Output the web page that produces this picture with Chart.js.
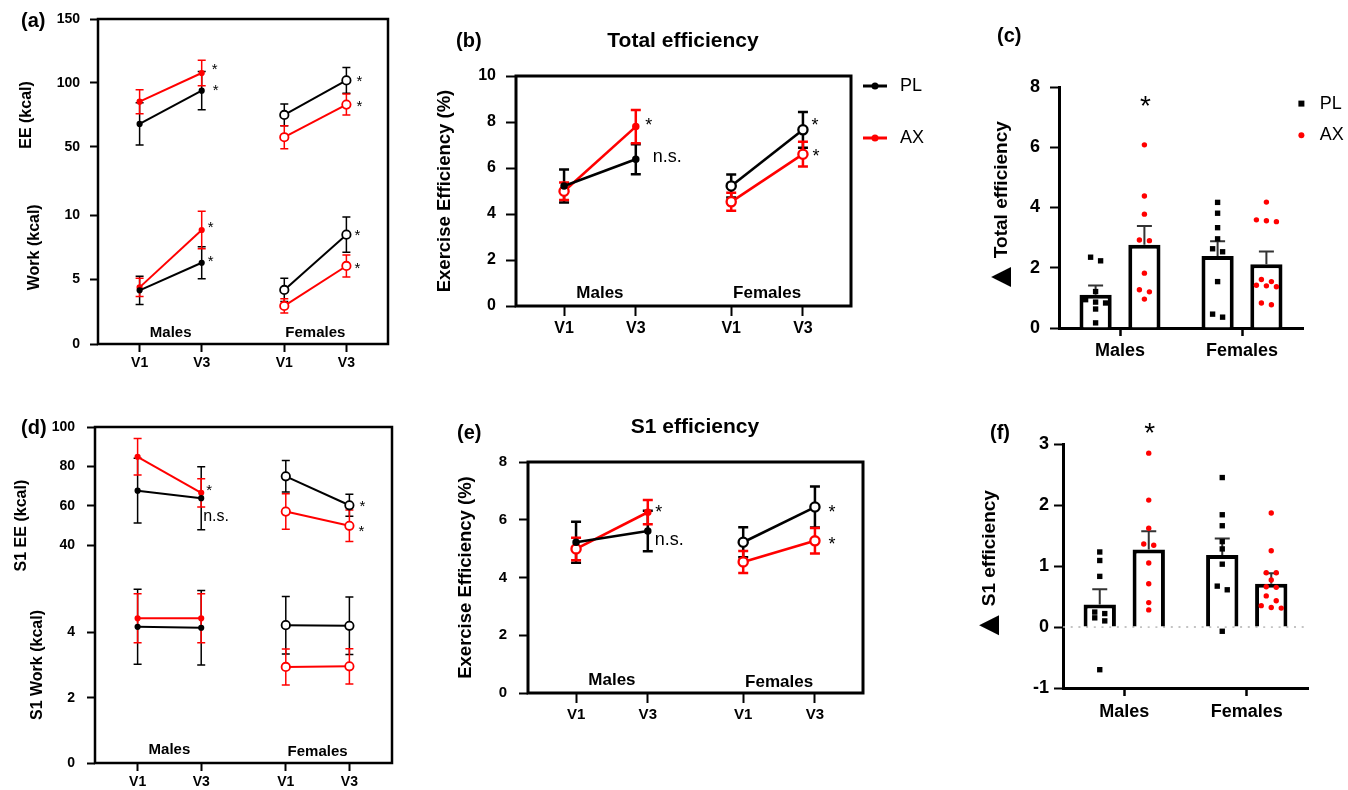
<!DOCTYPE html>
<html>
<head>
<meta charset="utf-8">
<title>Exercise efficiency</title>
<script src="https://cdn.jsdelivr.net/npm/chart.js@4.4.1/dist/chart.umd.min.js"></script>
<style>
  body { margin: 0; background: #fff; font-family: 'Liberation Sans', Arial, sans-serif; }
  #fig { position: relative; width: 1348px; height: 790px; overflow: hidden; }
  canvas { position: absolute; }
  .tag { position: absolute; font-weight: bold; font-size: 20px; line-height: 20px; }
  .head { position: absolute; font-weight: bold; font-size: 21px; line-height: 21px; transform: translateX(-50%); white-space: nowrap; }
</style>
</head>
<body>
<div id="fig">
  <canvas id="chartA" width="420" height="380" style="left:0;top:0"></canvas>
  <canvas id="chartB" width="540" height="360" style="left:420px;top:0"></canvas>
  <canvas id="chartC" width="388" height="370" style="left:960px;top:0"></canvas>
  <canvas id="chartD" width="420" height="400" style="left:0;top:390px"></canvas>
  <canvas id="chartE" width="540" height="350" style="left:420px;top:390px"></canvas>
  <canvas id="chartF" width="388" height="380" style="left:960px;top:390px"></canvas>
  <div class="tag" style="left:21px;top:10px">(a)</div>
  <div class="tag" style="left:456px;top:30px">(b)</div>
  <div class="tag" style="left:997px;top:25px">(c)</div>
  <div class="tag" style="left:21px;top:417px">(d)</div>
  <div class="tag" style="left:457px;top:422px">(e)</div>
  <div class="tag" style="left:990px;top:422px">(f)</div>
  <div class="head" style="left:683px;top:29px">Total efficiency</div>
  <div class="head" style="left:695px;top:415px">S1 efficiency</div>
</div>
<script>
const FONT = "'Liberation Sans', Arial, sans-serif";
const BLACK = '#000';
const RED = '#ff0000';

const visits = ['V1', 'V3', 'V1', 'V3'];
const visitX = [1, 2, 3.33, 4.33];
const groups = ['Males', 'Females'];
const series = ['PL', 'AX'];

// (a) energy expenditure and work, mean and SEM
const eePL = [68, 94, 75, 102];
const eePLsem = [16.5, 15, 8.5, 10];
const eeAX = [85.4, 107.8, 57.6, 83.1];
const eeAXsem = [9.4, 10, 9, 8.2];
const workPL = [4.16, 6.3, 4.19, 8.48];
const workPLsem = [1.1, 1.25, 0.9, 1.37];
const workAX = [4.39, 8.84, 2.95, 6.05];
const workAXsem = [0.7, 1.45, 0.55, 0.85];
const ticksEE = [50, 100, 150];
const ticksWork = [0, 5, 10];

// (b) total efficiency (%)
const totPL = [5.22, 6.38, 5.22, 7.66];
const totPLsem = [0.72, 0.65, 0.5, 0.78];
const totAX = [4.99, 7.8, 4.53, 6.6];
const totAXsem = [0.38, 0.72, 0.39, 0.54];
const ticksTot = [0, 2, 4, 6, 8, 10];

// (c) change in total efficiency
const dTotPL = [1.1, 2.39];
const dTotPLsem = [0.31, 0.49];
const dTotAX = [2.76, 2.12];
const dTotAXsem = [0.63, 0.42];
const dTotPLmales = [2.23, 2.35, 1.21, 0.94, 0.86, 0.83, 0.63, 0.17];
const dTotPLfemales = [4.17, 3.81, 3.33, 2.96, 2.63, 2.53, 1.54, 0.36, 0.46];
const dTotAXmales = [6.08, 4.38, 3.78, 2.9, 2.92, 1.82, 1.27, 1.2, 0.96];
const dTotAXfemales = [4.18, 3.56, 3.59, 3.53, 1.54, 1.61, 1.42, 1.37, 1.4, 0.77, 0.83];
const ticksDTot = [0, 2, 4, 6, 8];

// (d) S1 energy expenditure and work
const s1eePL = [67.7, 63.9, 75, 60.3];
const s1eePLsem = [16.4, 16, 8, 5.6];
const s1eeAX = [84.9, 66.6, 57.1, 49.9];
const s1eeAXsem = [9.3, 7.2, 9, 8];
const s1workPL = [4.17, 4.14, 4.22, 4.2];
const s1workPLsem = [1.15, 1.14, 0.88, 0.88];
const s1workAX = [4.43, 4.43, 2.94, 2.96];
const s1workAXsem = [0.75, 0.75, 0.55, 0.54];
const ticksS1EE = [40, 60, 80, 100];
const ticksS1Work = [0, 2, 4];

// (e) S1 efficiency (%)
const s1PL = [5.22, 5.61, 5.22, 6.44];
const s1PLsem = [0.71, 0.7, 0.52, 0.71];
const s1AX = [4.99, 6.26, 4.54, 5.27];
const s1AXsem = [0.39, 0.42, 0.38, 0.44];
const ticksS1 = [0, 2, 4, 6, 8];

// (f) change in S1 efficiency
const dS1PL = [0.37, 1.18];
const dS1PLsem = [0.25, 0.27];
const dS1AX = [1.27, 0.71];
const dS1AXsem = [0.3, 0.17];
const dS1PLmales = [1.23, 1.09, 0.83, 0.245, 0.22, 0.15, 0.1, -0.7];
const dS1PLfemales = [2.45, 1.84, 1.66, 1.4, 1.28, 1.03, 0.67, 0.61, -0.07];
const dS1AXmales = [2.85, 2.08, 1.62, 1.34, 1.36, 1.05, 0.71, 0.4, 0.28];
const dS1AXfemales = [1.87, 1.25, 0.89, 0.89, 0.77, 0.66, 0.65, 0.51, 0.43, 0.31, 0.35, 0.32];
const ticksDS1 = [-1, 0, 1, 2, 3];

Chart.defaults.font.family = FONT;
Chart.defaults.color = BLACK;

// vertical SEM bars drawn under the markers
const errorBars = {
  id: 'errorBars',
  beforeDatasetsDraw(chart, args, o) {
    const ctx = chart.ctx;
    chart.data.datasets.forEach((ds, di) => {
      if (!ds.sem) return;
      const meta = chart.getDatasetMeta(di);
      const ys = chart.scales[meta.yAxisID];
      ctx.save();
      ctx.strokeStyle = o.color || ds.borderColor;
      ctx.lineWidth = o.width;
      meta.data.forEach((el, i) => {
        const v = ds.data[i].y;
        const hi = ys.getPixelForValue(v + ds.sem[i]);
        const lo = o.upOnly ? el.y : ys.getPixelForValue(v - ds.sem[i]);
        ctx.beginPath();
        ctx.moveTo(el.x, lo);
        ctx.lineTo(el.x, hi);
        ctx.moveTo(el.x - o.cap, hi);
        ctx.lineTo(el.x + o.cap, hi);
        if (!o.upOnly) {
          ctx.moveTo(el.x - o.cap, lo);
          ctx.lineTo(el.x + o.cap, lo);
        }
        ctx.stroke();
      });
      ctx.restore();
    });
  }
};

const frame = {
  id: 'frame',
  afterDatasetsDraw(chart, args, o) {
    if (!o.width) return;
    const {ctx, chartArea: a} = chart;
    ctx.save();
    ctx.strokeStyle = BLACK;
    ctx.lineWidth = o.width;
    ctx.strokeRect(a.left, a.top, a.right - a.left, a.bottom - a.top);
    ctx.restore();
  }
};

const zeroLine = {
  id: 'zeroLine',
  beforeDatasetsDraw(chart, args, o) {
    if (!o.show) return;
    const {ctx, chartArea: a} = chart;
    const y = chart.scales.y.getPixelForValue(0);
    ctx.save();
    ctx.strokeStyle = '#b0b0b0';
    ctx.lineWidth = 1.5;
    ctx.setLineDash([2, 5.7]);
    ctx.beginPath();
    ctx.moveTo(a.left, y);
    ctx.lineTo(a.right, y);
    ctx.stroke();
    ctx.restore();
  }
};

// stars and n.s. marks next to points
const notes = {
  id: 'notes',
  afterDatasetsDraw(chart, args, o) {
    if (!o.items) return;
    const ctx = chart.ctx;
    o.items.forEach(n => {
      const el = chart.getDatasetMeta(n.ds).data[n.i];
      const size = n.size || o.size;
      const star = n.text === '*';
      const y = n.top !== undefined ? chart.chartArea.top + n.top : el.y + n.dy;
      ctx.save();
      ctx.font = `${size}px ${FONT}`;
      ctx.fillStyle = BLACK;
      ctx.textAlign = star ? 'center' : 'left';
      ctx.textBaseline = 'middle';
      ctx.fillText(n.text, el.x + n.dx, y + (star ? 0.22 * size : 0));
      ctx.restore();
    });
  }
};

const groupLabels = {
  id: 'groupLabels',
  afterDatasetsDraw(chart, args, o) {
    if (!o.size) return;
    const {ctx, chartArea: a} = chart;
    const xs = chart.scales.x;
    ctx.save();
    ctx.font = `bold ${o.size}px ${FONT}`;
    ctx.fillStyle = BLACK;
    ctx.textAlign = 'center';
    ctx.textBaseline = 'middle';
    groups.forEach((g, k) => {
      const x = (xs.getPixelForValue(visitX[2 * k]) + xs.getPixelForValue(visitX[2 * k + 1])) / 2;
      ctx.fillText(g, x, a.bottom - o.off[k]);
    });
    ctx.restore();
  }
};

// rotated axis titles for the split axes and the delta panels (read from the raw options)
const sideTitle = {
  id: 'sideTitle',
  afterDraw(chart) {
    const cfg = chart.config.options.plugins.sideTitle;
    if (!cfg || !cfg.items) return;
    const ctx = chart.ctx;
    cfg.items.forEach(t => {
      const sc = chart.scales[t.scale];
      const cy = t.at !== undefined ? sc.getPixelForValue(t.at) : (chart.chartArea.top + chart.chartArea.bottom) / 2;
      const main = `bold ${t.size}px ${FONT}`;
      ctx.save();
      ctx.translate(t.x, cy);
      ctx.rotate(-Math.PI / 2);
      ctx.fillStyle = BLACK;
      ctx.textBaseline = 'middle';
      ctx.textAlign = 'left';
      ctx.font = main;
      const wText = ctx.measureText(t.text).width;
      let wMark = 0;
      if (t.mark) {
        ctx.font = `${t.markSize}px ${FONT}`;
        wMark = ctx.measureText(t.mark).width + t.gap;
      }
      let x0 = -(wMark + wText) / 2;
      if (t.mark) {
        ctx.fillText(t.mark, x0, t.markDy || 0);
        x0 += wMark;
      }
      ctx.font = main;
      ctx.fillText(t.text, x0, 0);
      ctx.restore();
    });
  }
};

const key = {
  id: 'key',
  afterDraw(chart, args, o) {
    if (!o.rows) return;
    const {ctx, chartArea: a} = chart;
    o.rows.forEach((r, k) => {
      const x = a.right + o.left;
      const y = a.top + o.top + k * o.gap;
      ctx.save();
      ctx.fillStyle = r.color;
      ctx.strokeStyle = r.color;
      if (o.line) {
        ctx.lineWidth = 3;
        ctx.beginPath();
        ctx.moveTo(x, y);
        ctx.lineTo(x + 24, y);
        ctx.stroke();
        ctx.beginPath();
        ctx.arc(x + 12, y, 3.5, 0, Math.PI * 2);
        ctx.fill();
      } else if (r.shape === 'rect') {
        ctx.fillRect(x - 3, y - 3, 6, 6);
      } else {
        ctx.beginPath();
        ctx.arc(x, y, 3, 0, Math.PI * 2);
        ctx.fill();
      }
      ctx.fillStyle = BLACK;
      ctx.font = `18px ${FONT}`;
      ctx.textBaseline = 'middle';
      ctx.fillText(r.text, x + o.textDx, y);
      ctx.restore();
    });
  }
};

Chart.register(errorBars, frame, zeroLine, notes, groupLabels, sideTitle, key);

function visitAxis(fontSize, height, tick, pad) {
  return {
    type: 'linear', min: 0.33, max: 5,
    afterBuildTicks: s => { s.ticks = visitX.map(v => ({value: v})); },
    afterFit: s => { s.height = height; },
    ticks: { callback: (v, i) => visits[i], font: {size: fontSize, weight: 'bold'}, padding: pad, maxRotation: 0, autoSkip: false },
    grid: { drawOnChartArea: false, tickLength: tick, tickWidth: 2, tickColor: BLACK },
    border: { display: false }
  };
}

function valueAxis(o) {
  return {
    type: 'linear', position: 'left', min: o.min, max: o.max,
    stack: o.stack, stackWeight: o.weight || 1, weight: o.order || 0,
    afterBuildTicks: s => { s.ticks = o.ticks.map(v => ({value: v})); },
    afterFit: s => { s.width = o.width; },
    ticks: { font: {size: o.font, weight: 'bold'}, padding: o.pad },
    grid: { drawOnChartArea: false, tickLength: o.tick, tickWidth: 2, tickColor: BLACK },
    border: { display: !!o.border, width: 3, color: BLACK },
    title: { display: !!o.title, text: o.title || '', font: {size: o.titleSize, weight: 'bold'}, padding: {top: o.titlePad || 0, bottom: 0} }
  };
}

function lineSet(label, color, values, sem, yAxis, size, open) {
  return {
    label, yAxisID: yAxis, sem,
    data: values.map((v, i) => ({x: visitX[i], y: v})),
    borderColor: color, backgroundColor: color, borderWidth: size.lw,
    pointRadius: open.map(f => f ? size.ring : size.dot),
    pointBackgroundColor: open.map(f => f ? '#fff' : color),
    pointBorderColor: color, pointBorderWidth: size.bw,
    segment: { borderColor: c => c.p0DataIndex === 1 ? 'rgba(0,0,0,0)' : color },
    tension: 0
  };
}

function linePanel(id, o) {
  return new Chart(document.getElementById(id), {
    type: 'line',
    data: { datasets: o.datasets },
    options: {
      responsive: false, animation: false, events: [],
      layout: { padding: { left: 0, right: o.padRight, top: o.padTop, bottom: 0 } },
      scales: Object.assign({ x: visitAxis(o.xFont, o.xHeight, o.xTick, o.xPad) }, o.yAxes),
      plugins: {
        legend: { display: false }, tooltip: { enabled: false },
        errorBars: o.err, frame: { width: o.frame },
        notes: { items: o.notes, size: o.noteSize },
        groupLabels: { size: o.groupFont, off: o.groupOff },
        sideTitle: { items: o.titles },
        key: o.key || {}
      }
    }
  });
}

const smallMk = { lw: 2, dot: 2.2, ring: 4.2, bw: 1.8 };
const bigMk = { lw: 2.6, dot: 2.6, ring: 4.6, bw: 2.3 };
const byGroup = [false, false, true, true];
const byGroupAX = [true, false, true, true];
const lineKey = { line: true, left: 12, top: 10, gap: 52, textDx: 37,
  rows: series.map((s, k) => ({ text: s, color: k ? RED : BLACK })) };

// (a)
linePanel('chartA', {
  datasets: [
    lineSet('PL', BLACK, eePL, eePLsem, 'yEE', smallMk, byGroup),
    lineSet('AX', RED, eeAX, eeAXsem, 'yEE', smallMk, byGroup),
    lineSet('PL', BLACK, workPL, workPLsem, 'yWork', smallMk, byGroup),
    lineSet('AX', RED, workAX, workAXsem, 'yWork', smallMk, byGroup)
  ],
  yAxes: {
    yEE: valueAxis({ min: 23, max: 150, ticks: ticksEE, stack: 'a', weight: 1, order: 1, width: 98, font: 14, pad: 10, tick: 8 }),
    yWork: valueAxis({ min: 0, max: 12.6, ticks: ticksWork, stack: 'a', weight: 1, order: 0, width: 98, font: 14, pad: 10, tick: 8 })
  },
  titles: [
    { scale: 'yEE', at: 75, x: 27, size: 16, text: 'EE (kcal)' },
    { scale: 'yWork', at: 7.5, x: 35, size: 16, text: 'Work (kcal)' }
  ],
  padRight: 32, padTop: 19, xHeight: 36, xFont: 14, xTick: 8, xPad: 3, frame: 2.5,
  err: { width: 1.5, cap: 4 },
  noteSize: 15,
  notes: [
    { ds: 1, i: 1, text: '*', dx: 13, dy: -6 }, { ds: 0, i: 1, text: '*', dx: 14, dy: -3 },
    { ds: 0, i: 3, text: '*', dx: 13, dy: -2 }, { ds: 1, i: 3, text: '*', dx: 13, dy: -1 },
    { ds: 3, i: 1, text: '*', dx: 9, dy: -5 }, { ds: 2, i: 1, text: '*', dx: 9, dy: -4 },
    { ds: 2, i: 3, text: '*', dx: 11, dy: -2 }, { ds: 3, i: 3, text: '*', dx: 11, dy: 0 }
  ],
  groupFont: 15, groupOff: [11, 11]
});

// (b)
linePanel('chartB', {
  datasets: [
    lineSet('PL', BLACK, totPL, totPLsem, 'y', bigMk, byGroup),
    lineSet('AX', RED, totAX, totAXsem, 'y', bigMk, byGroupAX)
  ],
  yAxes: {
    y: valueAxis({ min: 0, max: 10, ticks: ticksTot, width: 96, font: 16, pad: 10, tick: 10,
      title: 'Exercise Efficiency (%)', titleSize: 18.5, titlePad: 14 })
  },
  padRight: 109, padTop: 76, xHeight: 54, xFont: 16, xTick: 10, xPad: 3, frame: 3,
  err: { width: 2.5, cap: 5 },
  noteSize: 18,
  notes: [
    { ds: 1, i: 1, text: '*', dx: 13, dy: -5 }, { ds: 0, i: 1, text: 'n.s.', dx: 17, dy: -2 },
    { ds: 0, i: 3, text: '*', dx: 12, dy: -8 }, { ds: 1, i: 3, text: '*', dx: 13, dy: -1 }
  ],
  groupFont: 17, groupOff: [13, 13],
  key: lineKey
});

// (d)
linePanel('chartD', {
  datasets: [
    lineSet('PL', BLACK, s1eePL, s1eePLsem, 'yEE', smallMk, byGroup),
    lineSet('AX', RED, s1eeAX, s1eeAXsem, 'yEE', smallMk, byGroup),
    lineSet('PL', BLACK, s1workPL, s1workPLsem, 'yWork', smallMk, byGroup),
    lineSet('AX', RED, s1workAX, s1workAXsem, 'yWork', smallMk, byGroup)
  ],
  yAxes: {
    yEE: valueAxis({ min: 29, max: 100, ticks: ticksS1EE, stack: 'd', weight: 5, order: 1, width: 95, font: 14, pad: 12, tick: 8 }),
    yWork: valueAxis({ min: 0, max: 6, ticks: ticksS1Work, stack: 'd', weight: 7, order: 0, width: 95, font: 14, pad: 12, tick: 8 })
  },
  titles: [
    { scale: 'yEE', at: 50, x: 22, size: 16, text: 'S1 EE (kcal)' },
    { scale: 'yWork', at: 3, x: 38, size: 16, text: 'S1 Work (kcal)' }
  ],
  padRight: 28, padTop: 37, xHeight: 27, xFont: 14, xTick: 8, xPad: 3, frame: 2.5,
  err: { width: 1.5, cap: 4 },
  noteSize: 15,
  notes: [
    { ds: 1, i: 1, text: '*', dx: 8, dy: -5 }, { ds: 0, i: 1, text: 'n.s.', dx: 2, dy: 18, size: 16 },
    { ds: 0, i: 3, text: '*', dx: 13, dy: -2 }, { ds: 1, i: 3, text: '*', dx: 12, dy: 3 }
  ],
  groupFont: 15, groupOff: [13, 11]
});

// (e)
linePanel('chartE', {
  datasets: [
    lineSet('PL', BLACK, s1PL, s1PLsem, 'y', bigMk, byGroup),
    lineSet('AX', RED, s1AX, s1AXsem, 'y', bigMk, byGroupAX)
  ],
  yAxes: {
    y: valueAxis({ min: 0, max: 8, ticks: ticksS1, width: 108, font: 15, pad: 12, tick: 9,
      title: 'Exercise Efficiency (%)', titleSize: 18.5, titlePad: 35 })
  },
  padRight: 97, padTop: 72, xHeight: 47, xFont: 15, xTick: 10, xPad: 3, frame: 3,
  err: { width: 2.5, cap: 5 },
  noteSize: 18,
  notes: [
    { ds: 1, i: 1, text: '*', dx: 11, dy: -3 }, { ds: 0, i: 1, text: 'n.s.', dx: 7, dy: 9 },
    { ds: 0, i: 3, text: '*', dx: 17, dy: 2 }, { ds: 1, i: 3, text: '*', dx: 17, dy: 0 }
  ],
  groupFont: 17, groupOff: [13, 11]
});

// bar panels: mean + SEM bars with individual points spread sideways.
// Bars and points share one linear x axis (group index), so the bars keep a single group of two;
// order puts the points (order 0) on top of the white bars (order 1).
function barPanel(id, o) {
  const barStyle = { backgroundColor: '#fff', borderColor: BLACK, borderWidth: 4,
    categoryPercentage: 0.8, barPercentage: 0.66, order: 1 };
  const byGroupIndex = vals => vals.map((v, i) => ({ x: i, y: v }));
  const chart = new Chart(document.getElementById(id), {
    type: 'bar',
    data: {
      datasets: [
        Object.assign({ label: 'PL', data: byGroupIndex(o.pl), sem: o.plSem }, barStyle),
        Object.assign({ label: 'AX', data: byGroupIndex(o.ax), sem: o.axSem }, barStyle),
        { type: 'scatter', label: 'PL', order: 0, data: [], values: o.plPts,
          pointStyle: 'rect', pointRadius: 3.8, pointBorderWidth: 0, backgroundColor: BLACK },
        { type: 'scatter', label: 'AX', order: 0, data: [], values: o.axPts,
          pointStyle: 'circle', pointRadius: 2.7, pointBorderWidth: 0, backgroundColor: RED }
      ]
    },
    options: {
      responsive: false, animation: false, events: [],
      layout: { padding: { left: 0, right: o.padRight, top: o.padTop, bottom: 0 } },
      scales: {
        x: {
          type: 'linear', offset: false, min: -0.5, max: groups.length - 0.5,
          afterBuildTicks: s => { s.ticks = groups.map((g, i) => ({ value: i })); },
          afterFit: s => { s.height = o.xHeight; },
          ticks: { callback: (v, i) => groups[i], font: {size: 18, weight: 'bold'}, padding: o.xPad, maxRotation: 0, autoSkip: false },
          grid: { offset: false, drawOnChartArea: false, tickLength: 8, tickWidth: 2.5, tickColor: BLACK },
          border: { display: true, width: 3, color: BLACK }
        },
        y: valueAxis({ min: o.ticks[0], max: o.ticks[o.ticks.length - 1], ticks: o.ticks, width: o.yWidth, font: 18,
          pad: o.yPad, tick: 9, border: true })
      },
      plugins: {
        legend: { display: false }, tooltip: { enabled: false },
        errorBars: { width: 2, cap: 7.5, upOnly: true, color: '#333' },
        zeroLine: { show: o.zero },
        notes: { items: [{ ds: 1, i: 0, text: '*', dx: 1, top: o.starTop }], size: 28 },
        sideTitle: { items: [{ scale: 'y', x: o.titleX, size: 19, text: o.title, mark: '\u25B2', markSize: 34, gap: 2 }] },
        key: o.key || {}
      }
    }
  });
  // beeswarm: points closer than 5 px in height share a row, rows are centred on the bar
  const y = chart.scales.y, xs = chart.scales.x;
  [2, 3].forEach((pi, s) => {
    const bars = chart.getDatasetMeta(s).data;
    const ds = chart.data.datasets[pi];
    ds.values.forEach((vals, g) => {
      const cx = bars[g].x;
      let row = [];
      const flush = () => {
        row.forEach((v, k) => ds.data.push({ x: xs.getValueForPixel(cx + (k - (row.length - 1) / 2) * 10), y: v }));
        row = [];
      };
      [...vals].sort((a, b) => b - a).forEach(v => {
        if (row.length && y.getPixelForValue(v) - y.getPixelForValue(row[0]) > 5) flush();
        row.push(v);
      });
      flush();
    });
  });
  chart.update();
  return chart;
}

barPanel('chartC', {
  pl: dTotPL, plSem: dTotPLsem, ax: dTotAX, axSem: dTotAXsem,
  plPts: [dTotPLmales, dTotPLfemales], axPts: [dTotAXmales, dTotAXfemales],
  ticks: ticksDTot, title: 'Total efficiency', titleX: 42,
  yWidth: 99, yPad: 10, padRight: 45, padTop: 87, xHeight: 42, xPad: 4, starTop: 14.5, zero: false,
  key: { left: -1.6, top: 16.6, gap: 31.7, textDx: 18.3,
    rows: series.map((s, k) => ({ text: s, color: k ? RED : BLACK, shape: k ? 'circle' : 'rect' })) }
});

barPanel('chartF', {
  pl: dS1PL, plSem: dS1PLsem, ax: dS1AX, axSem: dS1AXsem,
  plPts: [dS1PLmales, dS1PLfemales], axPts: [dS1AXmales, dS1AXfemales],
  ticks: ticksDS1, title: 'S1 efficiency', titleX: 30,
  yWidth: 103, yPad: 5, padRight: 40, padTop: 54, xHeight: 82, xPad: 5, starTop: -16, zero: true
});
</script>
</body>
</html>
